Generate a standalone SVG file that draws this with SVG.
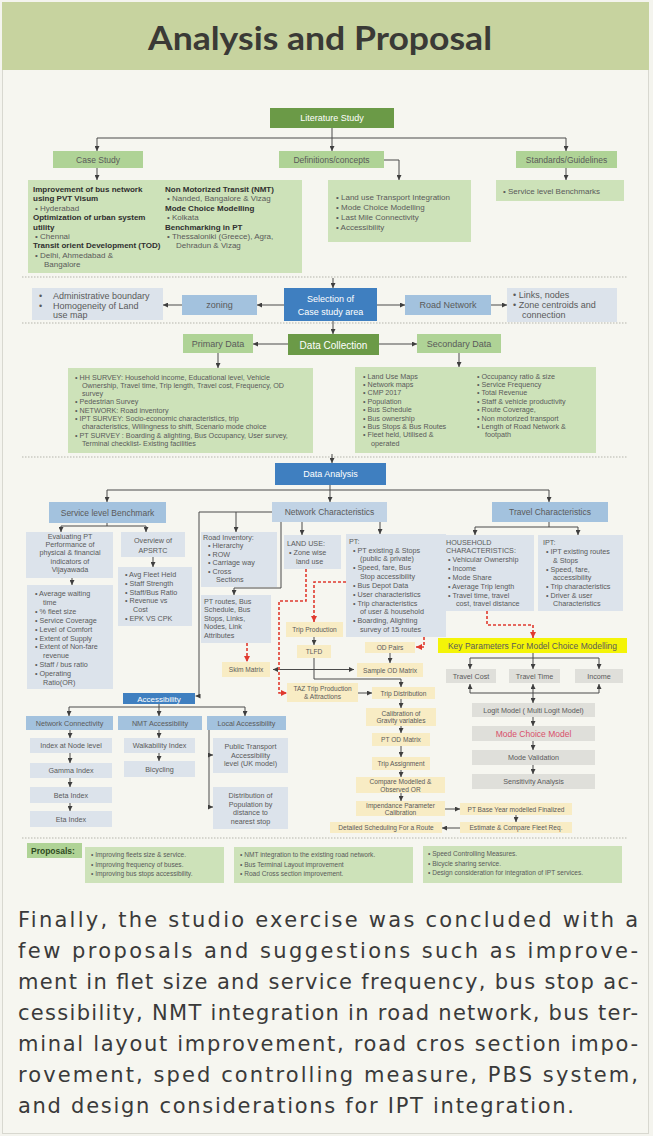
<svg xmlns="http://www.w3.org/2000/svg" width="653" height="1136" viewBox="0 0 653 1136">
<defs>
<marker id="a" viewBox="0 0 6 6" refX="6" refY="3" markerWidth="5" markerHeight="5" markerUnits="userSpaceOnUse" orient="auto-start-reverse"><path d="M0,0 L6,3 L0,6 z" fill="#3e3e3e"/></marker>
<marker id="r" viewBox="0 0 6 6" refX="6" refY="3" markerWidth="6" markerHeight="6" markerUnits="userSpaceOnUse" orient="auto"><path d="M0,0 L6,3 L0,6 z" fill="#e03a2f"/></marker>
<style>
text{font-family:"Liberation Sans",Arial,sans-serif;fill:#5a5a5a;font-size:7.2px}
.c{text-anchor:middle}
.b{font-weight:700;fill:#2f2f2f}
.w{fill:#ffffff}
.s6{font-size:6.6px}
.s8{font-size:8px}
.s85{font-size:8.5px}
.s9{font-size:9px}
.dg{fill:#6b9a47}
.lg{fill:#cde2b9}
.mg{fill:#afd396}
.db{fill:#3f7fc0}
.mb{fill:#a3c2de}
.nb{fill:#c1d3e5}
.lb{fill:#dce3eb}
.tn{fill:#f8ecc4}
.gy{fill:#dfdfda}
.yl{fill:#f4f407}
.ln{fill:none;stroke:#4a4a4a;stroke-width:1}
.ar{marker-end:url(#a)}
.rd{fill:none;stroke:#e03a2f;stroke-width:1.6;stroke-dasharray:3 2;marker-end:url(#r)}
.sep{stroke:#b5b5ac;stroke-width:1;stroke-dasharray:1.5 1.5}
.para{font-family:"DejaVu Sans","Liberation Sans",sans-serif;font-size:21px;fill:#3a3a3a}
</style>
</defs>

<rect x="0" y="0" width="653" height="1136" fill="#f4f4ee"/>
<rect x="2.5" y="2.5" width="646" height="1131" fill="#f6f6f0" stroke="#d8d8d0"/>
<g id="title">
<rect x="2" y="2" width="647" height="68" fill="#c7d39f"/>
<text x="148" y="50" textLength="344" lengthAdjust="spacingAndGlyphs" style="font-family:'Lato','Liberation Sans',sans-serif;font-size:33px;font-weight:700;fill:#3a3a36">Analysis and Proposal</text>
</g>

<g id="separators">
<line class="sep" x1="22" y1="277" x2="628" y2="277"/>
<line class="sep" x1="22" y1="323" x2="628" y2="323"/>
<line class="sep" x1="22" y1="457" x2="628" y2="457"/>
<line class="sep" x1="22" y1="838" x2="628" y2="838"/>
</g>

<g id="connectors">
<path class="ln" d="M332,128 V138 M97,138 H566"/>
<path class="ln ar" d="M97,138 V151"/>
<path class="ln ar" d="M332,138 V151"/>
<path class="ln ar" d="M566,138 V151"/>
<path class="ln ar" d="M97,168 V180"/>
<path class="ln ar" d="M384,160 H399 V180"/>
<path class="ln ar" d="M566,168 V180"/>
<path class="ln ar" d="M333,278 V288"/>
<path class="ln ar" d="M284,305 H257"/>
<path class="ln ar" d="M182,305 H163"/>
<path class="ln ar" d="M377,305 H405"/>
<path class="ln ar" d="M491,305 H507"/>
<path class="ln ar" d="M333,321 V334"/>
<path class="ln ar" d="M288,344 H253"/>
<path class="ln ar" d="M379,344 H417"/>
<path class="ln ar" d="M218,353 V368"/>
<path class="ln ar" d="M459,353 V367"/>
<path class="ln ar" d="M332,454 V463"/>
<path class="ln ar" d="M330,485 V502"/>
<path class="ln" d="M107,490 H549"/>
<path class="ln ar" d="M107,490 V502"/>
<path class="ln ar" d="M549,490 V502"/>
<path class="ln" d="M107,523 V526 M61,526 H146"/>
<path class="ln ar" d="M61,526 V532"/>
<path class="ln ar" d="M146,526 V532"/>
<path class="ln ar" d="M72,578 V585"/>
<path class="ln ar" d="M153,557 V567"/>
<path class="ln ar" d="M272,512 H199 V696 H195.5"/>
<path class="ln ar" d="M236,512 V532"/>
<path class="ln ar" d="M281,522 V588 H234 V595"/>
<path class="ln ar" d="M302,522 V535"/>
<path class="ln ar" d="M380,522 V534"/>
<path class="ln" d="M549,522 V527 M475,527 H578"/>
<path class="ln ar" d="M475,527 V535"/>
<path class="ln ar" d="M578,527 V535"/>
<path class="ln ar" d="M314,637 V645"/>
<path class="ln ar" d="M314,658 V679 H401 V687"/>
<path class="ln" d="M273,669.5 H354" marker-start="url(#a)" marker-end="url(#a)"/>
<path class="ln ar" d="M390,653 V663"/>
<path class="ln ar" d="M358,693 H372"/>
<path class="ln ar" d="M401,699 V708"/>
<path class="ln ar" d="M401,726 V733"/>
<path class="ln ar" d="M401,746 V757"/>
<path class="ln ar" d="M401,770 V777"/>
<path class="ln ar" d="M401,793 V801"/>
<path class="ln ar" d="M445,809 H460"/>
<path class="ln ar" d="M516,815 V822"/>
<path class="ln ar" d="M460,828 H442"/>
<path class="ln" d="M533,653 V658 M470,658 H599"/>
<path class="ln ar" d="M470,658 V669"/>
<path class="ln ar" d="M533,658 V669"/>
<path class="ln ar" d="M599,658 V669"/>
<path class="ln" d="M470,693 H599"/>
<path class="ln ar" d="M470,693 V684"/>
<path class="ln ar" d="M533,693 V684"/>
<path class="ln ar" d="M599,693 V684"/>
<path class="ln ar" d="M533,693 V703"/>
<path class="ln ar" d="M533,717 V726"/>
<path class="ln ar" d="M533,741 V750"/>
<path class="ln ar" d="M533,765 V774"/>
<path class="ln" d="M159,704 V707 M69,707 H245"/>
<path class="ln ar" d="M69,707 V716"/>
<path class="ln ar" d="M159,707 V716"/>
<path class="ln ar" d="M245,707 V716"/>
<path class="ln ar" d="M70,730 V738"/>
<path class="ln ar" d="M70,753 V763"/>
<path class="ln ar" d="M70,778 V787"/>
<path class="ln ar" d="M70,803 V811"/>
<path class="ln ar" d="M159,730 V738"/>
<path class="ln ar" d="M159,753 V761"/>
<path class="ln" d="M209,730 V807"/>
<path class="ln ar" d="M209,755 H213"/>
<path class="ln ar" d="M209,807 H213"/>
<path class="rd" d="M306,569 V601 H279 V693 H287"/>
<path class="rd" d="M346,582 H314 V622"/>
<path class="rd" d="M424,637 V647 H416"/>
<path class="rd" d="M247,643 V662"/>
<path class="rd" d="M487,611 V625 H533 V638"/>
</g>

<g id="literature-study"><rect class="dg" x="270" y="108" width="124" height="20"/><text class="w c s9" x="332" y="121">Literature Study</text></g>
<g id="case-study"><rect class="mg" x="53" y="151" width="90" height="17"/><text class="c s85" x="98" y="162.5">Case Study</text></g>
<g id="definitions"><rect class="mg" x="279" y="151" width="105" height="17"/><text class="c s85" x="331.5" y="162.5">Definitions/concepts</text></g>
<g id="standards"><rect class="mg" x="516" y="151" width="101" height="17"/><text class="c s85" x="566.5" y="162.5">Standards/Guidelines</text></g>

<g id="case-study-list">
<rect class="lg" x="28" y="180" width="274" height="93"/>
<text class="b s8" x="33" y="192">Improvement of bus network</text>
<text class="b s8" x="33" y="201.4">using PVT Visum</text>
<text class="s8" x="35" y="210.8">•   Hyderabad</text>
<text class="b s8" x="33" y="220.2">Optimization of urban system</text>
<text class="b s8" x="33" y="229.6">utility</text>
<text class="s8" x="35" y="239">•   Chennai</text>
<text class="b s8" x="33" y="248.4">Transit orient Development (TOD)</text>
<text class="s8" x="35" y="257.8">•   Delhi, Ahmedabad &amp;</text>
<text class="s8" x="44" y="267.2">Bangalore</text>
<text class="b s8" x="165" y="192">Non Motorized Transit (NMT)</text>
<text class="s8" x="167" y="201.4">•   Nanded, Bangalore &amp; Vizag</text>
<text class="b s8" x="165" y="210.8">Mode Choice Modelling</text>
<text class="s8" x="167" y="220.2">•   Kolkata</text>
<text class="b s8" x="165" y="229.6">Benchmarking in PT</text>
<text class="s8" x="167" y="239">•   Thessaloniki (Greece), Agra,</text>
<text class="s8" x="176" y="248.4">Dehradun &amp; Vizag</text>
</g>
<g id="definitions-list">
<rect class="lg" x="328" y="180" width="143" height="62"/>
<text class="s8" x="336" y="200">•  Land use Transport Integration</text>
<text class="s8" x="336" y="210">•  Mode Choice Modelling</text>
<text class="s8" x="336" y="220">•  Last Mile Connectivity</text>
<text class="s8" x="336" y="230">•  Accessibility</text>
</g>
<g id="standards-list">
<rect class="lg" x="496" y="180" width="128" height="21"/>
<text class="s8" x="503" y="193.5">•  Service level Benchmarks</text>
</g>

<g id="admin-boundary">
<rect class="lb" x="32" y="288" width="131" height="32"/>
<text class="s9" x="39" y="299">•</text><text class="s9" x="53" y="299">Administrative boundary</text>
<text class="s9" x="39" y="308.5">•</text><text class="s9" x="53" y="308.5">Homogeneity of Land</text>
<text class="s9" x="53" y="318">use map</text>
</g>
<g id="zoning"><rect class="mb" x="182" y="295" width="75" height="20"/><text class="c s9" x="219.5" y="308">zoning</text></g>
<g id="selection"><rect class="db" x="284" y="288" width="93" height="33"/><text class="w c s9" x="330.5" y="302">Selection of</text><text class="w c s9" x="330.5" y="315">Case study area</text></g>
<g id="road-network"><rect class="mb" x="405" y="295" width="86" height="20"/><text class="c s9" x="448" y="308">Road Network</text></g>
<g id="links-nodes">
<rect class="lb" x="507" y="288" width="110" height="34"/>
<text class="s9" x="513" y="298">•  Links, nodes</text>
<text class="s9" x="513" y="308">•  Zone centroids and</text>
<text class="s9" x="522" y="318">connection</text>
</g>

<g id="data-collection"><rect class="dg" x="288" y="334" width="91" height="21"/><text class="w c" style="font-size:10px" x="333.5" y="348.5">Data Collection</text></g>
<g id="primary-data"><rect class="mg" x="183" y="334" width="70" height="19"/><text class="c s9" x="218" y="347">Primary Data</text></g>
<g id="secondary-data"><rect class="mg" x="417" y="334" width="84" height="19"/><text class="c s9" x="459" y="347">Secondary Data</text></g>

<g id="primary-list">
<rect class="lg" x="68" y="368" width="245" height="85"/>
<text x="75" y="379.5">•  HH SURVEY: Household income, Educational level, Vehicle</text>
<text x="82" y="387.8">Ownership, Travel time, Trip length, Travel cost, Frequency, OD</text>
<text x="82" y="396.1">survey</text>
<text x="75" y="404.4">•  Pedestrian Survey</text>
<text x="75" y="412.7">•  NETWORK: Road inventory</text>
<text x="75" y="421">•  IPT SURVEY: Socio-economic characteristics, trip</text>
<text x="82" y="429.3">characteristics, Willingness to shift, Scenario mode choice</text>
<text x="75" y="437.6">•  PT SURVEY : Boarding &amp; alighting, Bus Occupancy, User survey,</text>
<text x="82" y="445.9">Terminal checklist- Existing facilities</text>
</g>
<g id="secondary-list">
<rect class="lg" x="355" y="367" width="241" height="86"/>
<text x="363" y="378.5">•  Land Use Maps</text>
<text x="363" y="386.9">•  Network maps</text>
<text x="363" y="395.3">•  CMP 2017</text>
<text x="363" y="403.7">•  Population</text>
<text x="363" y="412.1">•  Bus Schedule</text>
<text x="363" y="420.5">•  Bus ownership</text>
<text x="363" y="428.9">•  Bus Stops &amp; Bus Routes</text>
<text x="363" y="437.3">•  Fleet held, Utilised &amp;</text>
<text x="371" y="445.7">operated</text>
<text x="477" y="378.5">•  Occupancy ratio &amp; size</text>
<text x="477" y="386.9">•  Service Frequency</text>
<text x="477" y="395.3">•  Total Revenue</text>
<text x="477" y="403.7">•  Staff &amp; vehicle productivity</text>
<text x="477" y="412.1">•  Route Coverage,</text>
<text x="477" y="420.5">•  Non motorized transport</text>
<text x="477" y="428.9">•  Length of Road Network &amp;</text>
<text x="485" y="437.3">footpath</text>
</g>

<g id="data-analysis"><rect class="db" x="275" y="463" width="111" height="22"/><text class="w c s9" x="330.5" y="477">Data Analysis</text></g>
<g id="service-level-benchmark"><rect class="mb" x="49" y="502" width="117" height="21"/><text class="c s85" x="107.5" y="515.5">Service level Benchmark</text></g>
<g id="network-characteristics"><rect class="nb" x="272" y="502" width="115" height="20"/><text class="c s85" x="329.5" y="515">Network  Characteristics</text></g>
<g id="travel-characteristics"><rect class="mb" x="492" y="502" width="116" height="20"/><text class="c s85" x="550" y="515">Travel Characteristics</text></g>

<g id="evaluating-pt">
<rect class="lb" x="26" y="532" width="87" height="46"/>
<text class="c" x="70" y="539">Evaluating PT</text>
<text class="c" x="70" y="547">Performance of</text>
<text class="c" x="70" y="555">physical &amp; financial</text>
<text class="c" x="70" y="563.5">indicators of</text>
<text class="c" x="70" y="571.5">Vijayawada</text>
</g>
<g id="overview-apsrtc">
<rect class="lb" x="121" y="532" width="64" height="25"/>
<text class="c" x="153" y="543">Overview of</text>
<text class="c" x="153" y="552.5">APSRTC</text>
</g>
<g id="slb-indicators">
<rect class="lb" x="27" y="585" width="86" height="104"/>
<text x="35" y="596">•  Average waiting</text>
<text x="43" y="604.9">time</text>
<text x="35" y="613.8">•  % fleet size</text>
<text x="35" y="622.7">•  Service Coverage</text>
<text x="35" y="631.6">•  Level of Comfort</text>
<text x="35" y="640.5">•  Extent of Supply</text>
<text x="35" y="649.4">•  Extent of Non-fare</text>
<text x="43" y="658.3">revenue</text>
<text x="35" y="667.2">•  Staff / bus ratio</text>
<text x="35" y="676.1">•  Operating</text>
<text x="43" y="685">Ratio(OR)</text>
</g>
<g id="apsrtc-list">
<rect class="lb" x="118" y="567" width="74" height="59"/>
<text x="125" y="577">•  Avg Fleet Held</text>
<text x="125" y="585.8">•  Staff Strength</text>
<text x="125" y="594.6">•  Staff/Bus Ratio</text>
<text x="125" y="603.4">•  Revenue vs</text>
<text x="133" y="612.2">Cost</text>
<text x="125" y="621">•  EPK VS CPK</text>
</g>

<g id="road-inventory">
<rect class="lb" x="201" y="532" width="76" height="55"/>
<text x="203" y="539.5">Road Inventory:</text>
<text x="208" y="548">•  Hierarchy</text>
<text x="208" y="556.5">•  ROW</text>
<text x="208" y="565">•  Carriage way</text>
<text x="208" y="573.5">•  Cross</text>
<text x="216" y="582">Sections</text>
</g>
<g id="pt-routes">
<rect class="lb" x="201" y="595" width="70" height="48"/>
<text x="204" y="603.5">PT routes, Bus</text>
<text x="204" y="612">Schedule, Bus</text>
<text x="204" y="620.5">Stops, Links,</text>
<text x="204" y="629">Nodes, Link</text>
<text x="204" y="637.5">Attributes</text>
</g>
<g id="land-use">
<rect class="lb" x="284" y="535" width="57" height="34"/>
<text x="287" y="546">LAND USE:</text>
<text x="289" y="555">•  Zone wise</text>
<text x="296" y="564">land use</text>
</g>
<g id="pt">
<rect class="lb" x="346" y="534" width="100" height="103"/>
<text x="349" y="543.5">PT:</text>
<text x="353" y="552.5">•  PT existing &amp; Stops</text>
<text x="360" y="561">(public &amp; private)</text>
<text x="353" y="570">•  Speed, fare, Bus</text>
<text x="360" y="579">Stop accessibility</text>
<text x="353" y="588">•  Bus Depot Data</text>
<text x="353" y="596.5">•  User characteristics</text>
<text x="353" y="605.5">•  Trip characteristics</text>
<text x="360" y="614">of user &amp; household</text>
<text x="353" y="623">•  Boarding, Alighting</text>
<text x="360" y="631.5">survey of 15 routes</text>
</g>
<g id="household">
<rect class="lb" x="442" y="535" width="92" height="76"/>
<text x="446" y="544.5">HOUSEHOLD</text>
<text x="446" y="553">CHARACTERISTICS:</text>
<text x="448" y="562">•  Vehicular Ownership</text>
<text x="448" y="571">•  Income</text>
<text x="448" y="579.5">•  Mode Share</text>
<text x="448" y="588.5">•  Average Trip length</text>
<text x="448" y="597.5">•  Travel time, travel</text>
<text x="456" y="606">cost, travel distance</text>
</g>
<g id="ipt">
<rect class="lb" x="538" y="535" width="85" height="76"/>
<text x="543" y="544.5">IPT:</text>
<text x="546" y="554">•  IPT existing routes</text>
<text x="553" y="562.5">&amp; Stops</text>
<text x="546" y="571.5">•  Speed, fare,</text>
<text x="553" y="580">accessibility</text>
<text x="546" y="589">•  Trip characteristics</text>
<text x="546" y="597.5">•  Driver &amp; user</text>
<text x="553" y="606">Characteristics</text>
</g>

<g id="trip-production"><rect class="tn" x="286" y="622" width="57" height="15"/><text class="c s6" x="314.5" y="632">Trip Production</text></g>
<g id="tlfd"><rect class="tn" x="297" y="645" width="34" height="13"/><text class="c s6" x="314" y="654">TLFD</text></g>
<g id="od-pairs"><rect class="tn" x="365" y="642" width="50" height="11"/><text class="c s6" x="390" y="650">OD Pairs</text></g>
<g id="skim-matrix"><rect class="tn" x="222" y="662" width="48" height="15"/><text class="c s6" x="246" y="672">Skim Matrix</text></g>
<g id="sample-od"><rect class="tn" x="357" y="663" width="66" height="14"/><text class="c s6" x="390" y="672.5">Sample OD Matrix</text></g>
<g id="taz"><rect class="tn" x="287" y="683" width="71" height="19"/><text class="c s6" x="322.5" y="691">TAZ Trip Production</text><text class="c s6" x="322.5" y="699">&amp; Attractions</text></g>
<g id="trip-distribution"><rect class="tn" x="372" y="687" width="63" height="12"/><text class="c s6" x="403.5" y="695.5">Trip Distribution</text></g>
<g id="calibration"><rect class="tn" x="366" y="708" width="70" height="18"/><text class="c s6" x="401" y="715.5">Calibration of</text><text class="c s6" x="401" y="723">Gravity variables</text></g>
<g id="pt-od-matrix"><rect class="tn" x="372" y="733" width="58" height="13"/><text class="c s6" x="401" y="742">PT OD Matrix</text></g>
<g id="trip-assignment"><rect class="tn" x="372" y="757" width="58" height="13"/><text class="c s6" x="401" y="766">Trip Assignment</text></g>
<g id="compare"><rect class="tn" x="356" y="777" width="89" height="16"/><text class="c s6" x="400.5" y="784">Compare Modelled &amp;</text><text class="c s6" x="400.5" y="791.5">Observed OR</text></g>
<g id="impedance"><rect class="tn" x="356" y="801" width="89" height="15"/><text class="c s6" x="400.5" y="807.5">Impendance Parameter</text><text class="c s6" x="400.5" y="814.5">Calibration</text></g>
<g id="pt-base-year"><rect class="tn" x="460" y="803" width="112" height="12"/><text class="c s6" x="516" y="811.5">PT Base Year modelled Finalized</text></g>
<g id="estimate-fleet"><rect class="tn" x="460" y="822" width="112" height="11"/><text class="c s6" x="516" y="830">Estimate &amp; Compare Fleet Req.</text></g>
<g id="detailed-scheduling"><rect class="tn" x="330" y="822" width="112" height="11"/><text class="c s6" x="386" y="830">Detailed Scheduling For a Route</text></g>

<g id="key-parameters"><rect class="yl" x="438" y="638" width="189" height="15"/><text class="c s85" x="532.5" y="648.5">Key Parameters For Model Choice Modelling</text></g>
<g id="travel-cost"><rect class="gy" x="446" y="669" width="50" height="14"/><text class="c" x="471" y="678.5">Travel Cost</text></g>
<g id="travel-time"><rect class="gy" x="509" y="669" width="51" height="14"/><text class="c" x="534.5" y="678.5">Travel Time</text></g>
<g id="income"><rect class="gy" x="575" y="669" width="48" height="14"/><text class="c" x="599" y="678.5">Income</text></g>
<g id="logit-model"><rect class="gy" x="472" y="703" width="123" height="14"/><text class="c" x="533.5" y="712.5">Logit Model ( Multi Logit Model)</text></g>
<g id="mode-choice-model"><rect class="gy" x="472" y="726" width="123" height="15"/><text class="c s85" style="fill:#d9506a" x="533.5" y="736.5">Mode Choice Model</text></g>
<g id="mode-validation"><rect class="gy" x="472" y="750" width="123" height="15"/><text class="c" x="533.5" y="760">Mode Validation</text></g>
<g id="sensitivity-analysis"><rect class="gy" x="472" y="774" width="123" height="15"/><text class="c" x="533.5" y="784">Sensitivity Analysis</text></g>

<g id="accessibility"><rect class="db" x="123" y="693" width="72" height="11"/><text class="w c s8" x="159" y="701.5">Accessibility</text></g>
<g id="network-connectivity"><rect class="mb" x="26" y="716" width="87" height="14"/><text class="c" x="69.5" y="725.5">Network Connectivity</text></g>
<g id="nmt-accessibility"><rect class="mb" x="118" y="716" width="84" height="14"/><text class="c" x="160" y="725.5">NMT Accessibility</text></g>
<g id="local-accessibility"><rect class="mb" x="207" y="716" width="79" height="14"/><text class="c" x="246.5" y="725.5">Local Accessibility</text></g>
<g id="index-node"><rect class="lb" x="30" y="738" width="82" height="15"/><text class="c" x="71" y="748">Index at Node level</text></g>
<g id="gamma-index"><rect class="lb" x="30" y="763" width="82" height="15"/><text class="c" x="71" y="773">Gamma Index</text></g>
<g id="beta-index"><rect class="lb" x="30" y="787" width="82" height="16"/><text class="c" x="71" y="797.5">Beta Index</text></g>
<g id="eta-index"><rect class="lb" x="30" y="811" width="82" height="16"/><text class="c" x="71" y="821.5">Eta Index</text></g>
<g id="walkability-index"><rect class="lb" x="124" y="738" width="71" height="15"/><text class="c" x="159.5" y="748">Walkability Index</text></g>
<g id="bicycling"><rect class="lb" x="124" y="761" width="71" height="16"/><text class="c" x="159.5" y="771.5">Bicycling</text></g>
<g id="ptal"><rect class="lb" x="213" y="738" width="75" height="35"/><text class="c" x="250.5" y="749">Public Transport</text><text class="c" x="250.5" y="757.5">Accessibility</text><text class="c" x="250.5" y="766">level (UK model)</text></g>
<g id="population-distribution"><rect class="lb" x="213" y="787" width="75" height="42"/><text class="c" x="250.5" y="798">Distribution of</text><text class="c" x="250.5" y="806.5">Population by</text><text class="c" x="250.5" y="815">distance to</text><text class="c" x="250.5" y="823.5">nearest stop</text></g>

<g id="proposals-label"><rect class="mg" x="27" y="843" width="55" height="15"/><text class="b s85" style="fill:#2f4a22" x="31" y="853.5">Proposals:</text></g>
<g id="proposals-1">
<rect class="lg" x="85" y="847" width="139" height="36"/>
<text class="s6" x="91" y="857">•   Improving fleets size &amp; service.</text>
<text class="s6" x="91" y="866.5">•   Improving frequency of buses.</text>
<text class="s6" x="91" y="876">•   Improving bus stops accessibility.</text>
</g>
<g id="proposals-2">
<rect class="lg" x="234" y="847" width="179" height="36"/>
<text class="s6" x="240" y="857">•   NMT integration to the existing road network.</text>
<text class="s6" x="240" y="866.5">•   Bus Terminal Layout improvement</text>
<text class="s6" x="240" y="876">•   Road Cross section improvement.</text>
</g>
<g id="proposals-3">
<rect class="lg" x="423" y="846" width="199" height="37"/>
<text class="s6" x="428" y="856">•   Speed Controlling Measures.</text>
<text class="s6" x="428" y="865.5">•   Bicycle sharing service.</text>
<text class="s6" x="428" y="875">•   Design consideration for integration of IPT services.</text>
</g>

<g id="paragraph">
<text class="para" x="18" y="927" textLength="620" lengthAdjust="spacing">Finally, the studio exercise was concluded with a</text>
<text class="para" x="18" y="958" textLength="620" lengthAdjust="spacing">few proposals and suggestions such as improve-</text>
<text class="para" x="18" y="989" textLength="620" lengthAdjust="spacing">ment in flet size and service frequency, bus stop ac-</text>
<text class="para" x="18" y="1020" textLength="620" lengthAdjust="spacing">cessibility, NMT integration in road network, bus ter-</text>
<text class="para" x="18" y="1051" textLength="620" lengthAdjust="spacing">minal layout improvement, road cros section impo-</text>
<text class="para" x="18" y="1082" textLength="620" lengthAdjust="spacing">rovement, sped controlling measure, PBS system,</text>
<text class="para" x="18" y="1113" textLength="556" lengthAdjust="spacing">and design considerations for IPT integration.</text>
</g>
</svg>
